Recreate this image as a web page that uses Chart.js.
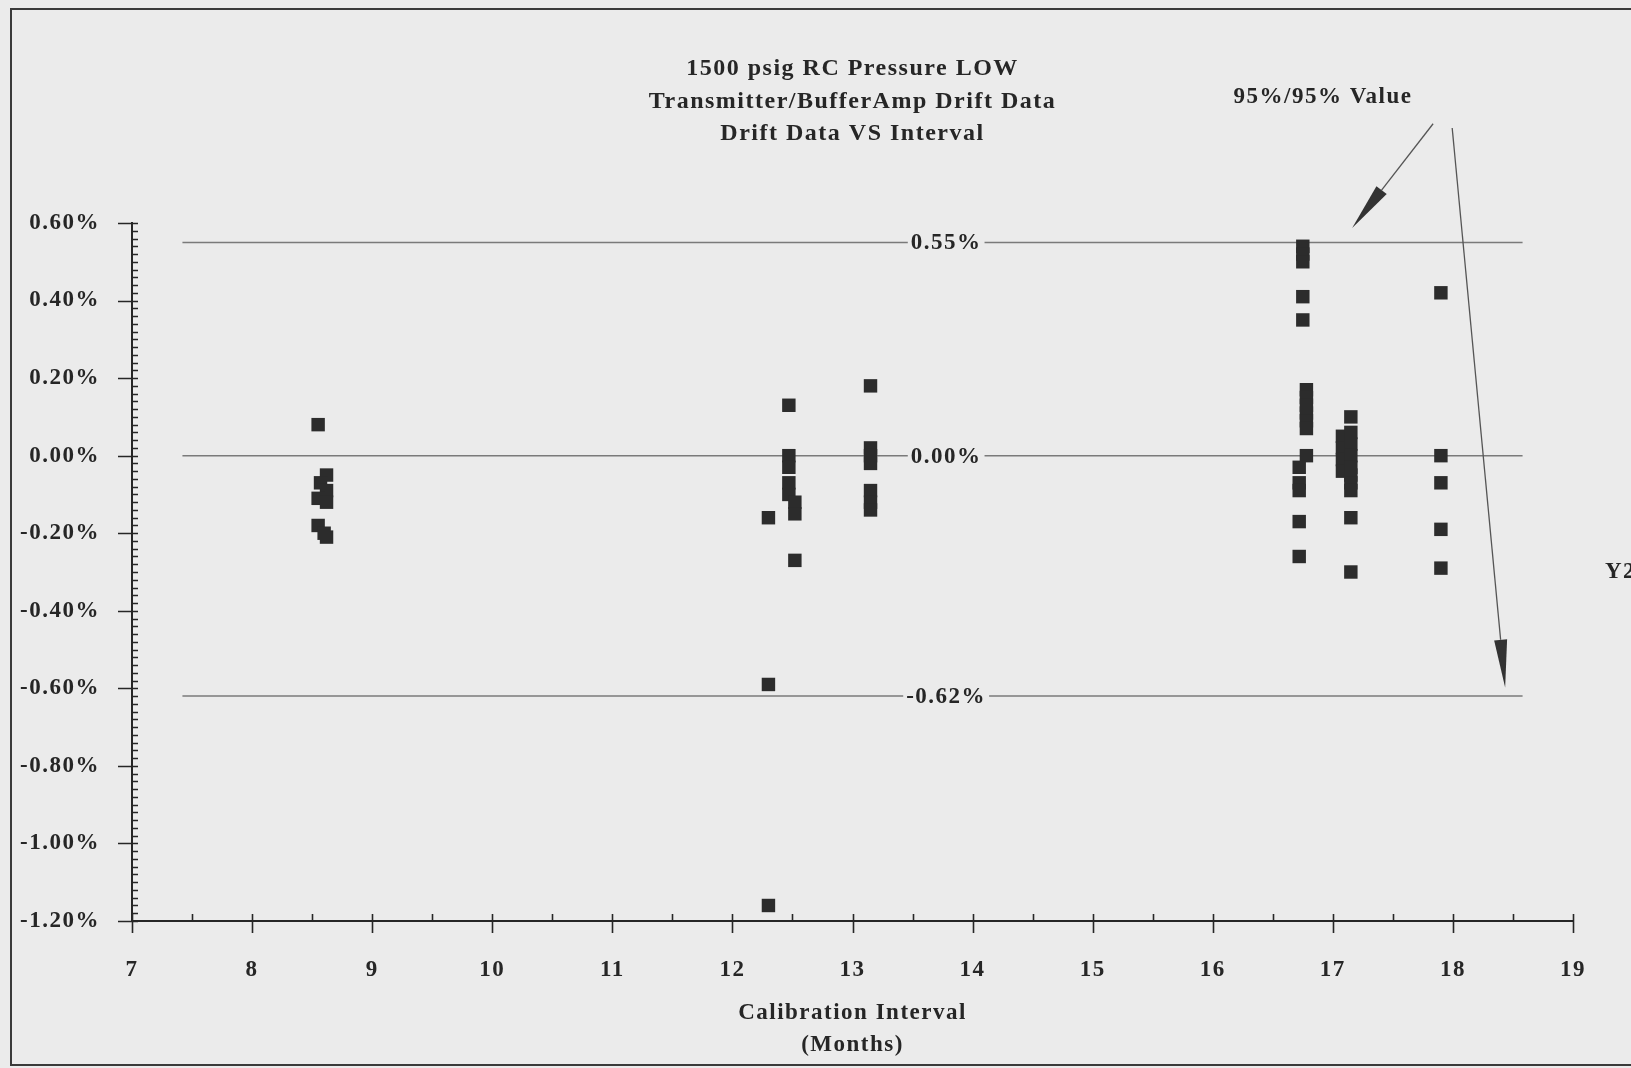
<!DOCTYPE html>
<html>
<head>
<meta charset="utf-8">
<title>1500 psig RC Pressure LOW - Drift Data VS Interval</title>
<script src="https://cdn.jsdelivr.net/npm/chart.js@4.4.1/dist/chart.umd.min.js"></script>
<style>
  html, body { margin: 0; padding: 0; background: #ebebeb; overflow: hidden; }
  canvas { display: block; }
</style>
</head>
<body>
<canvas id="driftChart" width="1631" height="1068"></canvas>
<script>
// Drift (% span) vs calibration interval (months)
const intervalMonths = [
  8.55, 8.62, 8.57, 8.62, 8.55, 8.62, 8.55, 8.60, 8.62,
  12.30, 12.30, 12.30,
  12.47, 12.47, 12.47, 12.47, 12.47, 12.52, 12.52, 12.52,
  13.15, 13.15, 13.15, 13.15, 13.15, 13.15, 13.15,
  16.75, 16.75, 16.75, 16.75, 16.75,
  16.78, 16.78, 16.78, 16.78, 16.78, 16.78, 16.78,
  16.72, 16.72, 16.72, 16.72, 16.72,
  17.08, 17.08, 17.08, 17.08,
  17.15, 17.15, 17.15, 17.15, 17.15, 17.15, 17.15, 17.15, 17.15, 17.15,
  17.90, 17.90, 17.90, 17.90, 17.90
];
const driftPercent = [
  0.08, -0.05, -0.07, -0.09, -0.11, -0.12, -0.18, -0.20, -0.21,
  -0.16, -0.59, -1.16,
  0.13, 0.00, -0.03, -0.07, -0.10, -0.12, -0.15, -0.27,
  0.18, 0.02, 0.00, -0.02, -0.09, -0.12, -0.14,
  0.54, 0.52, 0.50, 0.41, 0.35,
  0.17, 0.15, 0.13, 0.11, 0.09, 0.07, 0.00,
  -0.03, -0.07, -0.09, -0.17, -0.26,
  0.05, 0.02, -0.01, -0.04,
  0.10, 0.06, 0.03, 0.00, -0.03, -0.05, -0.07, -0.09, -0.16, -0.30,
  0.42, 0.00, -0.07, -0.19, -0.29
];

// 95%/95% limits and the zero line
const limitValues = [0.55, 0.00, -0.62];
const limitLabels = ['0.55%', '0.00%', '-0.62%'];
const limitSpan = [7.42, 18.58];
const limitLabelAt = 13.78;

const xTickValues = [7, 8, 9, 10, 11, 12, 13, 14, 15, 16, 17, 18, 19];
const yTickValues = [0.6, 0.4, 0.2, 0, -0.2, -0.4, -0.6, -0.8, -1.0, -1.2];

const titleLines = ['1500 psig RC Pressure LOW', 'Transmitter/BufferAmp Drift Data', 'Drift Data VS Interval'];
const xTitle = ['Calibration Interval', '(Months)'];

// arrows from the "95%/95% Value" note down to the limit lines (months, %)
const arrowFrom = [[17.835, 0.856], [17.994, 0.845]];
const arrowTo = [[17.161, 0.587], [18.435, -0.598]];

const INK = '#262626';
const SERIF = "'Liberation Serif', 'DejaVu Serif', serif";

const points = intervalMonths.map((m, i) => ({ x: m, y: driftPercent[i] }));

const limitSets = limitValues.map(v => ({
  type: 'line',
  data: [{ x: limitSpan[0], y: v }, { x: limitSpan[1], y: v }],
  borderColor: '#7a7a7a',
  borderWidth: 1.5,
  pointRadius: 0,
  order: 2
}));

// paper, letter spacing and page frame
const paperPlugin = {
  id: 'paper',
  beforeDraw(chart) {
    const c = chart.ctx;
    c.fillStyle = '#ebebeb';
    c.fillRect(0, 0, chart.width, chart.height);
    c.letterSpacing = '1.5px';
  },
  afterDraw(chart) {
    const c = chart.ctx;
    c.save();
    c.strokeStyle = '#3a3a3a';
    c.lineWidth = 2;
    c.beginPath();
    c.moveTo(chart.width + 5, 9);
    c.lineTo(11, 9);
    c.lineTo(11, 1065);
    c.lineTo(chart.width + 5, 1065);
    c.stroke();
    c.restore();
  }
};

// major / minor tick marks on both axes
const tickPlugin = {
  id: 'axisTicks',
  afterDraw(chart) {
    const c = chart.ctx;
    const xs = chart.scales.x, ys = chart.scales.y;
    const left = chart.chartArea.left, bottom = chart.chartArea.bottom;
    c.save();
    c.strokeStyle = INK;
    c.lineWidth = 1.6;
    c.beginPath();
    for (let i = 0; i <= 90; i++) {
      const py = Math.round(ys.getPixelForValue(-1.2 + i * 0.02)) + 0.5;
      const major = i % 10 === 0;
      c.moveTo(major ? left - 14 : left, py);
      c.lineTo(left + 6, py);
    }
    for (let i = 0; i <= 24; i++) {
      const px = Math.round(xs.getPixelForValue(7 + i * 0.5)) + 0.5;
      const major = i % 2 === 0;
      c.moveTo(px, bottom - 7);
      c.lineTo(px, major ? bottom + 12 : bottom);
    }
    c.stroke();
    c.restore();
  }
};

// limit labels, titles, note and arrows
const notePlugin = {
  id: 'notes',
  afterDatasetsDraw(chart) {
    const c = chart.ctx;
    const xs = chart.scales.x, ys = chart.scales.y;
    c.save();
    c.font = 'bold 23px ' + SERIF;
    c.textAlign = 'center';
    c.textBaseline = 'middle';
    limitValues.forEach((v, i) => {
      const px = xs.getPixelForValue(limitLabelAt);
      const py = ys.getPixelForValue(v);
      const w = c.measureText(limitLabels[i]).width;
      c.fillStyle = '#ebebeb';
      c.fillRect(px - w / 2 - 3, py - 4, w + 6, 8);
      c.fillStyle = INK;
      c.fillText(limitLabels[i], px, py + 1);
    });
    c.restore();
  },
  afterDraw(chart) {
    const c = chart.ctx;
    const xs = chart.scales.x, ys = chart.scales.y;
    const ca = chart.chartArea;
    c.save();
    c.fillStyle = INK;
    c.textAlign = 'center';
    c.textBaseline = 'middle';
    c.font = 'bold 24px ' + SERIF;
    const cx = (ca.left + ca.right) / 2;
    titleLines.forEach((t, i) => c.fillText(t, cx, 69 + i * 32.5));
    c.font = 'bold 23px ' + SERIF;
    c.fillText('95%/95% Value', 1323, 97);
    c.textAlign = 'left';
    c.fillText('Y2', 1605, 572);

    arrowFrom.forEach((from, i) => {
      const x0 = xs.getPixelForValue(from[0]), y0 = ys.getPixelForValue(from[1]);
      const x1 = xs.getPixelForValue(arrowTo[i][0]), y1 = ys.getPixelForValue(arrowTo[i][1]);
      const ang = Math.atan2(y1 - y0, x1 - x0);
      const len = 48, half = 6.5;
      const bx = x1 - Math.cos(ang) * len, by = y1 - Math.sin(ang) * len;
      c.strokeStyle = '#555';
      c.lineWidth = 1.3;
      c.beginPath();
      c.moveTo(x0, y0);
      c.lineTo(bx, by);
      c.stroke();
      c.fillStyle = '#333';
      c.beginPath();
      c.moveTo(x1, y1);
      c.lineTo(bx - Math.sin(ang) * half, by + Math.cos(ang) * half);
      c.lineTo(bx + Math.sin(ang) * half, by - Math.cos(ang) * half);
      c.closePath();
      c.fill();
    });
    c.restore();
  }
};

const driftChart = new Chart(document.getElementById('driftChart'), {
  type: 'scatter',
  data: {
    datasets: [
      {
        label: 'Drift',
        data: points,
        pointStyle: 'rect',
        pointRadius: 9.5,
        backgroundColor: '#2c2c2c',
        borderColor: '#2c2c2c',
        borderWidth: 0,
        order: 1
      },
      ...limitSets
    ]
  },
  options: {
    responsive: false,
    animation: false,
    devicePixelRatio: 1,
    layout: { padding: { top: 223, right: 58, left: 0, bottom: 0 } },
    plugins: {
      legend: { display: false },
      tooltip: { enabled: false }
    },
    scales: {
      x: {
        type: 'linear',
        min: 7,
        max: 19,
        afterBuildTicks: s => { s.ticks = xTickValues.map(v => ({ value: v })); },
        afterFit: s => { s.height = 147; },
        grid: { display: false, drawTicks: false },
        border: { color: INK, width: 2 },
        ticks: {
          padding: 35,
          color: INK,
          maxRotation: 0,
          autoSkip: false,
          font: { family: SERIF, size: 23, weight: 'bold' }
        },
        title: {
          display: true,
          text: xTitle,
          color: INK,
          font: { family: SERIF, size: 23, weight: 'bold', lineHeight: 1.4 },
          padding: { top: 0, bottom: 7 }
        }
      },
      y: {
        min: -1.2,
        max: 0.6,
        afterBuildTicks: s => { s.ticks = yTickValues.map(v => ({ value: v })); },
        afterFit: s => { s.width = 132; },
        grid: { display: false, drawTicks: false },
        border: { color: INK, width: 2 },
        ticks: {
          padding: 32,
          color: INK,
          autoSkip: false,
          font: { family: SERIF, size: 23, weight: 'bold' },
          callback: v => v.toFixed(2) + '%'
        }
      }
    }
  },
  plugins: [paperPlugin, tickPlugin, notePlugin]
});
</script>
</body>
</html>
